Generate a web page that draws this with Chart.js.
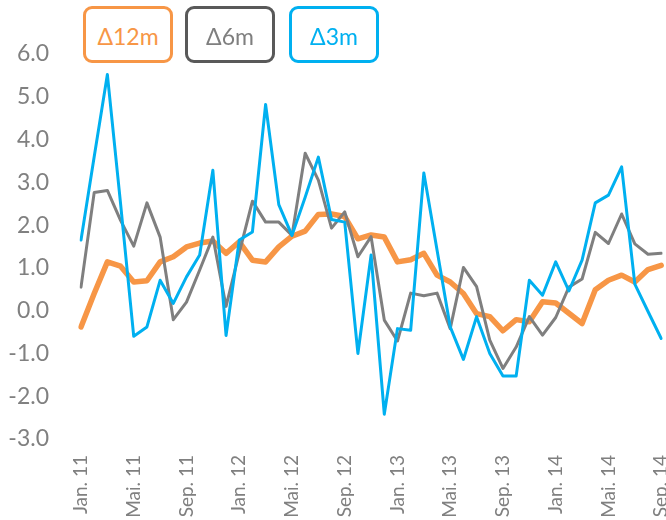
<!DOCTYPE html>
<html>
<head>
<meta charset="utf-8">
<script src="https://cdn.jsdelivr.net/npm/chart.js@4/dist/chart.umd.min.js"></script>
<style>
  html, body { margin: 0; padding: 0; background: #fff; }
  #wrap { position: relative; width: 666px; height: 520px; overflow: hidden; }
  #c { position: absolute; left: 0; top: 0; }
  .lg { position: absolute; top: 6px; width: 90px; height: 57px; box-sizing: border-box;
        border: 3px solid; border-radius: 9px; display: flex; align-items: center; justify-content: center;
        font-family: Lato, "Open Sans", sans-serif; font-size: 23px; padding-top: 3px; background: #fff; }
</style>
</head>
<body>
<div id="wrap">
  <canvas id="c" width="700" height="520"></canvas>
</div>
<script>
const monthNames = ['Jan.', 'Feb.', 'Mär.', 'Apr.', 'Mai.', 'Jun.', 'Jul.', 'Aug.', 'Sep.', 'Okt.', 'Nov.', 'Dez.'];
const years = ['11', '12', '13', '14'];
const monthCount = 45; // Jan. 11 .. Sep. 14

const seriesNames = ['\u039412m', '\u03946m', '\u03943m'];

const d12m = [-0.38, 0.40, 1.14, 1.04, 0.67, 0.70, 1.14, 1.26, 1.49, 1.58,
              1.63, 1.34, 1.61, 1.18, 1.14, 1.49, 1.74, 1.86, 2.25, 2.26,
              2.20, 1.68, 1.77, 1.72, 1.14, 1.19, 1.34, 0.83, 0.67, 0.40,
              -0.07, -0.14, -0.47, -0.21, -0.26, 0.21, 0.18, -0.06, -0.30, 0.49,
              0.71, 0.83, 0.67, 0.96, 1.06];

const d6m = [0.55, 2.76, 2.81, 2.11, 1.51, 2.52, 1.72, -0.21, 0.20, 0.95,
             1.72, 0.10, 1.35, 2.56, 2.07, 2.07, 1.76, 3.68, 3.05, 1.93,
             2.31, 1.26, 1.73, -0.22, -0.71, 0.41, 0.35, 0.41, -0.42, 1.01,
             0.56, -0.69, -1.35, -0.85, -0.14, -0.57, -0.16, 0.55, 0.74, 1.83,
             1.57, 2.26, 1.56, 1.32, 1.34];

const d3m = [1.65, 3.60, 5.52, 2.50, -0.60, -0.38, 0.71, 0.17, 0.79, 1.30,
             3.28, -0.58, 1.65, 1.84, 4.82, 2.48, 1.76, 2.65, 3.59, 2.13,
             2.07, -1.00, 1.30, -2.42, -0.42, -0.46, 3.22, 1.42, -0.38, -1.14,
             -0.14, -1.00, -1.53, -1.53, 0.71, 0.36, 1.14, 0.46, 1.18, 2.52,
             2.70, 3.36, 0.62, -0.02, -0.65];

const yTicks = [-3, -2, -1, 0, 1, 2, 3, 4, 5, 6];
const labelEvery = 4;

const colors = ['#F79646', '#7F7F7F', '#00B0F0'];
const legendBorders = ['#F79646', '#595959', '#00B0F0'];
const legendText = ['#F79646', '#7F7F7F', '#00B0F0'];

const labels = [];
for (let i = 0; i < monthCount; i++) {
  labels.push(monthNames[i % 12] + ' ' + years[Math.floor(i / 12)]);
}

const seriesData = [d12m, d6m, d3m];
const widths = [5.5, 3, 3];

const datasets = seriesData.map((d, k) => ({
  label: seriesNames[k],
  data: d,
  borderColor: colors[k],
  backgroundColor: colors[k],
  borderWidth: widths[k],
  pointRadius: 0,
  tension: 0,
  fill: false,
  borderJoinStyle: 'round',
  borderCapStyle: 'round',
  order: 3 - k
}));

// HTML legend boxes built from the dataset names
const legendLefts = [83, 185, 289];
const wrap = document.getElementById('wrap');
seriesNames.forEach((n, k) => {
  const el = document.createElement('div');
  el.className = 'lg';
  el.style.left = legendLefts[k] + 'px';
  el.style.borderColor = legendBorders[k];
  el.style.color = legendText[k];
  el.textContent = n;
  wrap.appendChild(el);
});

new Chart(document.getElementById('c'), {
  type: 'line',
  data: { labels, datasets },
  options: {
    responsive: false,
    animation: false,
    devicePixelRatio: 1,
    layout: { padding: { top: 54, right: 32.3, left: 0, bottom: 0 } },
    plugins: { legend: { display: false }, tooltip: { enabled: false } },
    scales: {
      x: {
        type: 'category',
        offset: false,
        grid: { display: false, drawTicks: false },
        border: { display: false },
        afterFit: (s) => { s.height = 81; },
        ticks: {
          autoSkip: false,
          minRotation: 90,
          maxRotation: 90,
          padding: 16,
          color: '#808080',
          font: { family: 'Lato', size: 19 },
          callback: function (v, i) { return i % labelEvery === 0 ? labels[i] : ''; }
        }
      },
      y: {
        min: yTicks[0],
        max: yTicks[yTicks.length - 1],
        grid: { display: false, drawTicks: false },
        border: { display: false },
        afterFit: (s) => { s.width = 81; },
        afterBuildTicks: (s) => { s.ticks = yTicks.map(v => ({ value: v })); },
        ticks: {
          padding: 32,
          color: '#808080',
          font: { family: 'Lato', size: 23 },
          callback: (v) => Number(v).toFixed(1)
        }
      }
    }
  }
});
</script>
</body>
</html>
